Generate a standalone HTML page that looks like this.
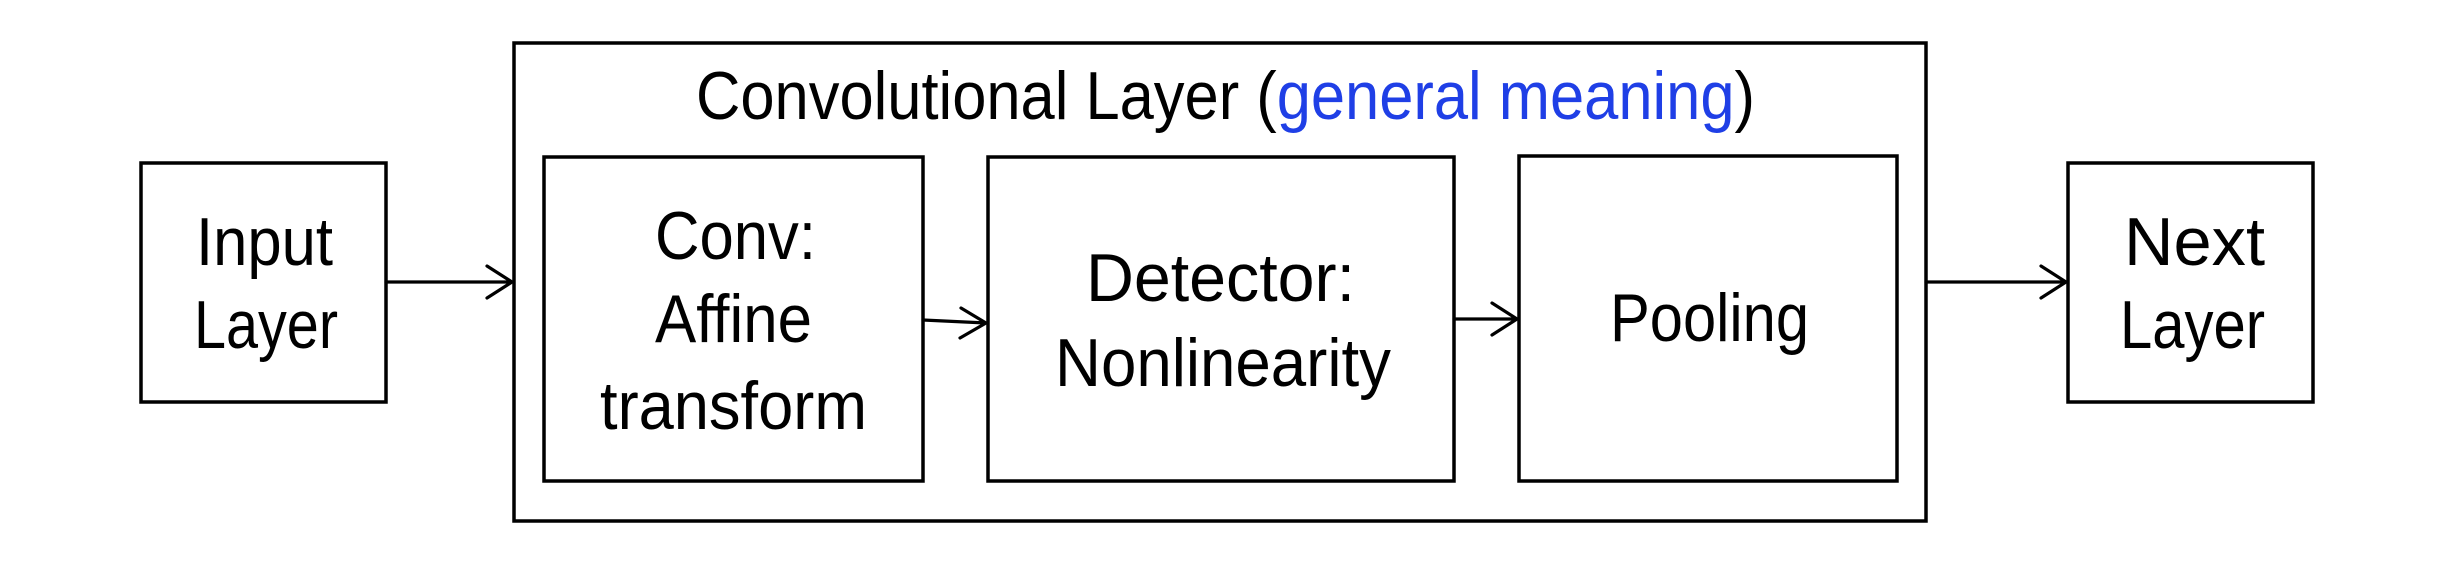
<!DOCTYPE html>
<html><head><meta charset="utf-8"><style>html,body{margin:0;padding:0;background:#fff}svg{display:block}</style></head>
<body>
<svg width="2460" height="565" viewBox="0 0 2460 565" xmlns="http://www.w3.org/2000/svg">
<g fill="none" stroke="#000" stroke-width="3.5">
<rect x="514" y="43" width="1412" height="478"/>
<rect x="141" y="163" width="245" height="239"/>
<rect x="544" y="157" width="379" height="324"/>
<rect x="988" y="157" width="466" height="324"/>
<rect x="1519" y="156" width="378" height="325"/>
<rect x="2068" y="163" width="245" height="239"/>
<g stroke-width="3.2" stroke-linecap="round" stroke-linejoin="round">
<path d="M386 282 L512 282 M487 266 L512 282 L487 298"/>
<path d="M923 320 L986 323 M961 308 L986 323 L960 338"/>
<path d="M1454 319 L1517 319 M1492 303 L1517 319 L1492 335"/>
<path d="M1926 282 L2066 282 M2041 266 L2066 282 L2041 298"/>
</g>
</g>
<g font-family="Liberation Sans, sans-serif" font-size="68" fill="#000">
<text x="696" y="119" textLength="1059" lengthAdjust="spacingAndGlyphs">Convolutional Layer (<tspan fill="#1f3fe6">general meaning</tspan>)</text>
<text x="196" y="265" textLength="137" lengthAdjust="spacingAndGlyphs">Input</text>
<text x="194" y="348" textLength="144" lengthAdjust="spacingAndGlyphs">Layer</text>
<text x="655" y="259" textLength="161" lengthAdjust="spacingAndGlyphs">Conv:</text>
<text x="655" y="342" textLength="157" lengthAdjust="spacingAndGlyphs">Affine</text>
<text x="600" y="429" textLength="267" lengthAdjust="spacingAndGlyphs">transform</text>
<text x="1086" y="301" textLength="269" lengthAdjust="spacingAndGlyphs">Detector:</text>
<text x="1055" y="386" textLength="336" lengthAdjust="spacingAndGlyphs">Nonlinearity</text>
<text x="1610" y="341" textLength="199" lengthAdjust="spacingAndGlyphs">Pooling</text>
<text x="2124" y="265" textLength="141" lengthAdjust="spacingAndGlyphs">Next</text>
<text x="2120" y="348" textLength="145" lengthAdjust="spacingAndGlyphs">Layer</text>
</g>
</svg>
</body></html>
